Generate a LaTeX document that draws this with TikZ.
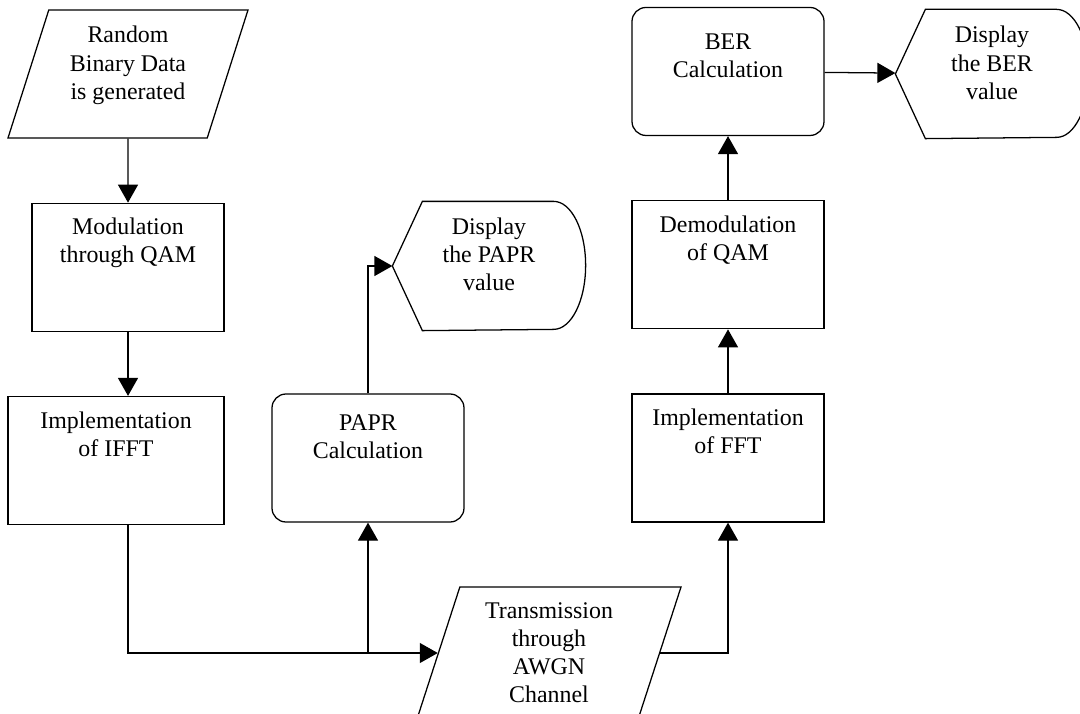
\documentclass[tikz,border=0pt]{standalone}
\usepackage{fontspec}
\setmainfont{Liberation Serif}
\usetikzlibrary{shapes.geometric, arrows.meta, positioning, calc}

% empty line under the text, so that it sits high in its box
\newcommand{\gapline}[1]{\\[#1]\mbox{}}

\begin{document}
\begin{tikzpicture}[>={Triangle[length=0.45cm, width=0.5cm]}, line width=0.9pt,
    every node/.style={align=center, font=\fontsize{17}{20}\selectfont, inner sep=2pt},
    procbox/.style={draw, minimum width=4.8cm, minimum height=3.2cm},
    calcbox/.style={procbox, rounded corners=0.35cm},
    iobox/.style={draw, trapezium, trapezium left angle=68, trapezium right angle=112,
        trapezium stretches body, minimum height=3.2cm},
    dispbox/.style={minimum width=4.8cm, minimum height=3.2cm}]
    \useasboundingbox (0,0) rectangle (27,17.825);

    % left column: source and transmitter
    \node (gen) at (3.2,15.975) [iobox, minimum width=6cm] {Random\\Binary Data\\is generated\gapline{-4pt}};
    \node (mod) [procbox, below=1.6cm of gen] {Modulation\\through QAM\gapline{18pt}};
    \node (ifft) [procbox, minimum width=5.4cm, below=1.6cm of mod, xshift=-0.3cm] {Implementation\\of IFFT\gapline{18pt}};

    % PAPR branch
    \node (papr) at (9.2,6.375) [calcbox] {PAPR\\Calculation\gapline{11pt}};
    \node (pdisp) at (12.225,11.175) [dispbox] {Display\\the PAPR\\value\gapline{-3pt}};

    % channel
    \node (tx) at (13.725,1.5) [iobox, minimum width=6.6cm, minimum height=3.3cm] {Transmission\\through\\AWGN\\Channel};

    % right column: receiver
    \node (fft) at (18.2,6.375) [procbox] {Implementation\\of FFT\gapline{18pt}};
    \node (demod) [procbox, above=1.6cm of fft] {Demodulation\\of QAM\gapline{18pt}};
    \node (ber) [calcbox, above=1.6cm of demod] {BER\\Calculation\gapline{3pt}};
    \node (bdisp) at (24.8,15.975) [dispbox] {Display\\the BER\\value\gapline{-4pt}};

    % display outlines
    \foreach \d in {pdisp, bdisp} {
        \draw (\d.west) -- ($(\d.north west)+(0.75,0)$) -- ($(\d.north east)-(0.8,0)$)
            arc[start angle=90, end angle=-90, x radius=0.8cm, y radius=1.6cm]
            -- ($(\d.south west)+(0.75,0)$) -- cycle;
    }

    % connectors
    \draw[->] (gen) -- (mod);
    \draw[->] (mod) -- (mod.south |- ifft.north);
    \draw[->] (mod.south |- ifft.south) |- (tx.left side);
    \coordinate (split) at (papr.south |- tx.left side);
    \draw[->] (split) -- (papr.south);
    \draw[->] (papr.north) |- (pdisp.west);
    \draw[->] (tx.right side) -| (fft.south);
    \draw[->] (fft) -- (demod);
    \draw[->] (demod) -- (ber);
    \draw[->] (ber) -- (bdisp);
\end{tikzpicture}
\end{document}
